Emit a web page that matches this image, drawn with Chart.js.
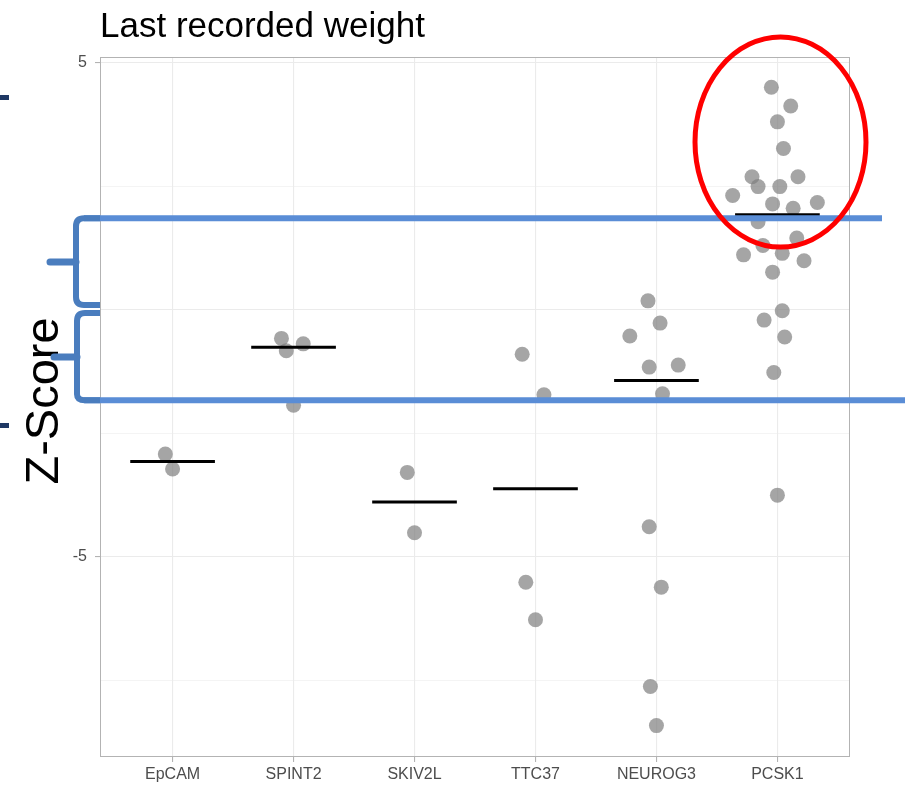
<!DOCTYPE html>
<html>
<head>
<meta charset="utf-8">
<script src="https://cdn.jsdelivr.net/npm/chart.js@4"></script>
<style>
  body { margin: 0; background: #fff; }
  canvas { display: block; }
</style>
</head>
<body>
<canvas id="chart" width="912" height="788"></canvas>
<script>
// --- datos ---
const categories = ['EpCAM', 'SPINT2', 'SKIV2L', 'TTC37', 'NEUROG3', 'PCSK1'];
const yTicks = [-7.5, -5, -2.5, 0, 2.5, 5];
const yLabels = [5, -5];

const medians = [-3.07, -0.76, -3.89, -3.62, -1.43, 1.92];

const epcamX = [0.94, 1.00];
const epcamZ = [-2.92, -3.22];
const spint2X = [1.90, 1.94, 2.08, 2.00];
const spint2Z = [-0.58, -0.83, -0.69, -1.93];
const skiv2lX = [2.94, 3.00];
const skiv2lZ = [-3.29, -4.51];
const ttc37X = [3.89, 4.07, 3.92, 4.00];
const ttc37Z = [-0.90, -1.72, -5.51, -6.27];
const neurog3X = [4.93, 5.03, 4.78, 4.94, 5.18, 5.05, 4.94, 5.04, 4.95, 5.00];
const neurog3Z = [0.18, -0.27, -0.53, -1.16, -1.12, -1.70, -4.39, -5.61, -7.62, -8.41];
const pcsk1X = [5.95, 6.11, 6.00, 6.05, 5.79, 5.84, 6.02, 6.17, 5.63, 5.96, 6.13, 6.33,
                5.84, 6.16, 5.88, 6.04, 5.72, 6.22, 5.96, 6.04, 5.89, 6.06, 5.97, 6.00];
const pcsk1Z = [4.50, 4.12, 3.80, 3.26, 2.69, 2.49, 2.49, 2.69, 2.31, 2.14, 2.05, 2.17,
                1.78, 1.45, 1.30, 1.14, 1.11, 0.99, 0.76, -0.02, -0.21, -0.55, -1.27, -3.75];

const groupX = [epcamX, spint2X, skiv2lX, ttc37X, neurog3X, pcsk1X];
const groupZ = [epcamZ, spint2Z, skiv2lZ, ttc37Z, neurog3Z, pcsk1Z];

// --- datasets ---
const datasets = [];
medians.forEach((m, i) => {
  datasets.push({
    type: 'line',
    data: [{ x: i + 1 - 0.35, y: m }, { x: i + 1 + 0.35, y: m }],
    borderColor: '#000',
    borderWidth: 3,
    pointRadius: 0,
    order: 0
  });
});
groupZ.forEach((zs, i) => {
  datasets.push({
    type: 'scatter',
    data: zs.map((z, j) => ({ x: groupX[i][j], y: z })),
    backgroundColor: 'rgba(127,127,127,0.7)',
    borderWidth: 0,
    pointRadius: 7.5,
    pointHoverRadius: 7.5,
    order: 1
  });
});

// títulos y anotaciones
const decorations = {
  id: 'decorations',
  afterDraw(chart) {
    const ctx = chart.ctx;
    const a = chart.chartArea;
    const ys = chart.scales.y;
    ctx.save();

    // borde del panel
    ctx.strokeStyle = '#B3B3B3';
    ctx.lineWidth = 1;
    ctx.strokeRect(a.left + 0.5, a.top + 0.5, a.right - a.left - 1, a.bottom - a.top - 1);

    // título
    ctx.fillStyle = '#000';
    ctx.font = '35px "Liberation Sans", Arial, sans-serif';
    ctx.textAlign = 'left';
    ctx.textBaseline = 'alphabetic';
    ctx.fillText('Last recorded weight', 100, 37);

    // Z-Score
    ctx.save();
    ctx.translate(58, 401);
    ctx.rotate(-Math.PI / 2);
    ctx.textAlign = 'center';
    ctx.font = '47px "Liberation Sans", Arial, sans-serif';
    ctx.fillText('Z-Score', 0, 0);
    ctx.restore();

    // líneas azules
    const y1 = ys.getPixelForValue(1.85);
    const y2 = ys.getPixelForValue(-1.83);
    ctx.strokeStyle = '#5A8DD6';
    ctx.lineWidth = 6;
    ctx.lineCap = 'butt';
    ctx.beginPath();
    ctx.moveTo(84, y1); ctx.lineTo(882, y1);
    ctx.moveTo(84, y2); ctx.lineTo(905, y2);
    ctx.stroke();

    // llaves
    ctx.strokeStyle = '#4A7DBE';
    ctx.lineWidth = 6;
    ctx.lineJoin = 'round';
    ctx.beginPath();
    ctx.moveTo(100, y1);
    ctx.lineTo(84, y1);
    ctx.quadraticCurveTo(76, y1, 76, y1 + 8);
    ctx.lineTo(76, 297);
    ctx.quadraticCurveTo(76, 305, 84, 305);
    ctx.lineTo(100, 305);
    ctx.moveTo(100, 313);
    ctx.lineTo(85, 313);
    ctx.quadraticCurveTo(77, 313, 77, 321);
    ctx.lineTo(77, y2 - 6);
    ctx.quadraticCurveTo(77, y2, 85, y2);
    ctx.lineTo(100, y2);
    ctx.stroke();
    ctx.lineCap = 'round';
    ctx.lineWidth = 7;
    ctx.beginPath();
    ctx.moveTo(76, 262); ctx.lineTo(50, 262);
    ctx.moveTo(77, 357); ctx.lineTo(54, 357);
    ctx.stroke();

    // marcas oscuras al borde
    ctx.fillStyle = '#1F3864';
    ctx.fillRect(0, 95, 9, 5);
    ctx.fillRect(0, 423, 9, 5);

    // elipse roja
    ctx.strokeStyle = '#FF0000';
    ctx.lineWidth = 5;
    ctx.beginPath();
    ctx.ellipse(780.5, 142, 85.5, 105, 0, 0, Math.PI * 2);
    ctx.stroke();

    ctx.restore();
  }
};

const tickFont = { family: '"Liberation Sans Narrow", "Liberation Sans", Arial, sans-serif', size: 16 };

new Chart(document.getElementById('chart'), {
  type: 'scatter',
  data: { datasets },
  options: {
    responsive: false,
    animation: false,
    events: [],
    layout: { padding: { top: 57, right: 62, left: 0, bottom: 0 } },
    plugins: {
      legend: { display: false },
      tooltip: { enabled: false }
    },
    scales: {
      x: {
        type: 'linear',
        min: 0.4,
        max: 6.6,
        afterBuildTicks: s => { s.ticks = categories.map((c, i) => ({ value: i + 1 })); },
        afterFit: s => { s.height = 31; },
        border: { display: false },
        grid: { color: '#EBEBEB', lineWidth: 1.1, tickLength: 5, tickColor: '#B3B3B3' },
        ticks: {
          color: '#4D4D4D',
          font: tickFont,
          padding: 3,
          maxRotation: 0,
          autoSkip: false,
          callback: v => categories[Math.round(v) - 1] || ''
        }
      },
      y: {
        type: 'linear',
        min: -9.045,
        max: 5.111,
        afterBuildTicks: s => { s.ticks = yTicks.map(v => ({ value: v })); },
        afterFit: s => { s.width = 100; },
        border: { display: false },
        grid: {
          color: '#EBEBEB',
          lineWidth: c => (c.tick && c.tick.value % 5 === 0 ? 1.1 : 0.55),
          tickLength: 5,
          tickColor: c => (c.tick && yLabels.includes(c.tick.value) ? '#B3B3B3' : 'rgba(0,0,0,0)')
        },
        ticks: {
          color: '#4D4D4D',
          font: tickFont,
          padding: 8,
          autoSkip: false,
          callback: v => (yLabels.includes(v) ? String(v) : '')
        }
      }
    }
  },
  plugins: [decorations]
});
</script>
</body>
</html>
